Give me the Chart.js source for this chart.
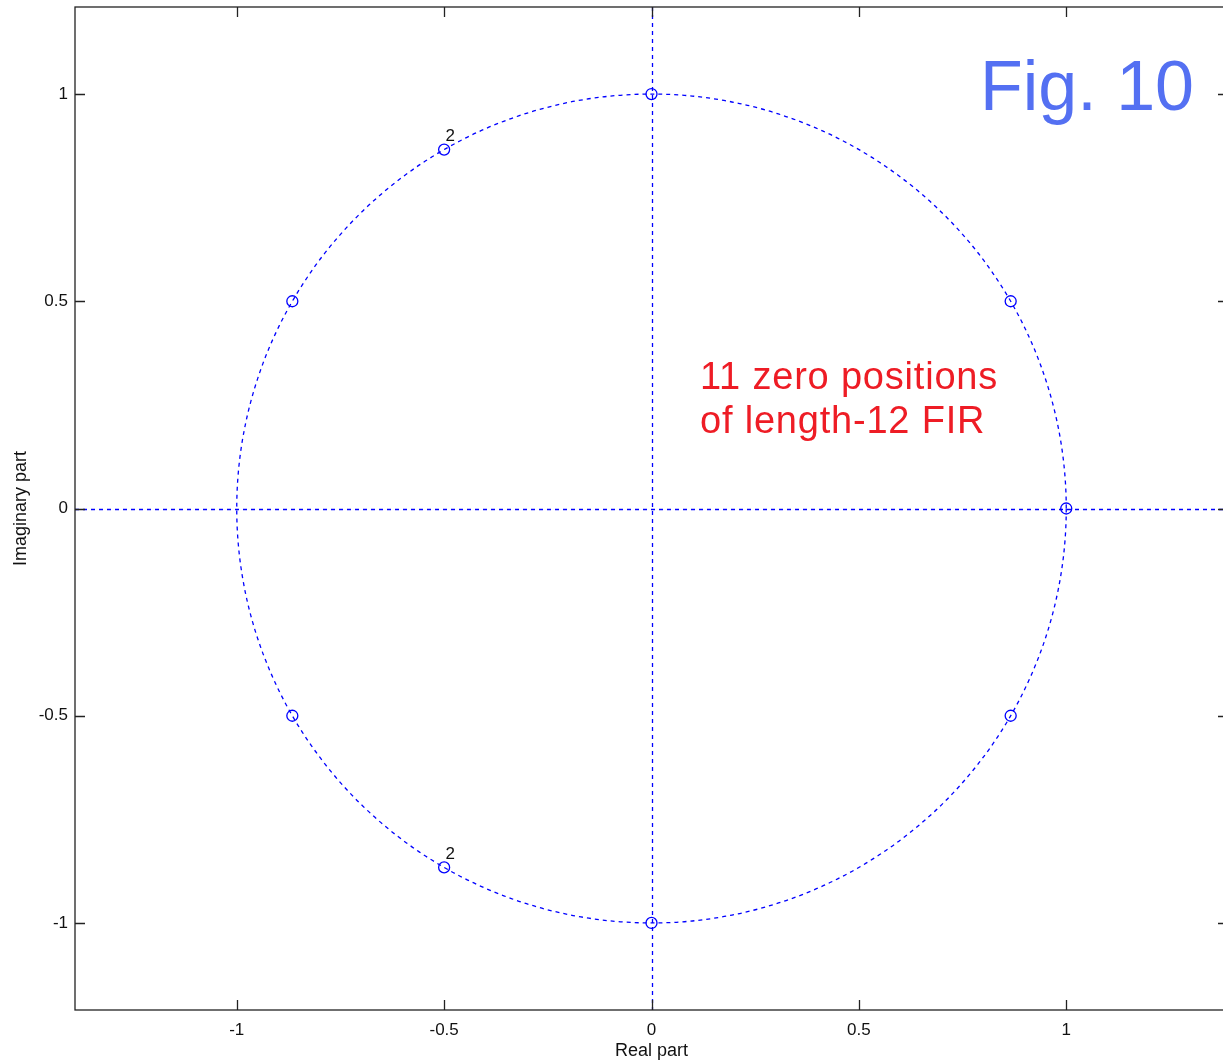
<!DOCTYPE html>
<html>
<head>
<meta charset="utf-8">
<title>Fig. 10 - zero positions</title>
<script src="https://cdn.jsdelivr.net/npm/chart.js@4/dist/chart.umd.min.js"></script>
<style>
    html, body { margin: 0; padding: 0; background: #fff; overflow: hidden; }
    #wrap { width: 1240px; height: 1063px; }
</style>
</head>
<body>
<div id="wrap"><canvas id="zplane" width="1240" height="1063"></canvas></div>
<script>
// Zeros of the length-12 FIR
const zeroRe = [1, 0.866, 0.866, 0, 0, -0.5, -0.5, -0.866, -0.866];
const zeroIm = [0, 0.5, -0.5, 1, -1, 0.866, -0.866, 0.5, -0.5];
const zeroMult = [1, 1, 1, 1, 1, 2, 2, 1, 1];

// Axes
const xTicks = [-1, -0.5, 0, 0.5, 1];
const yTicks = [-1, -0.5, 0, 0.5, 1];
const xLim = [-1.39, 1.39];
const yLim = [-1.21, 1.21];

const BLUE = '#0000ff';
const FONT = 'Arial, "Liberation Sans", sans-serif';

// Unit circle, dashed axes, frame, inward ticks, multiplicity labels, notes
const zplanePlugin = {
    id: 'zplane',
    beforeDatasetsDraw(chart) {
        const ctx = chart.ctx;
        const area = chart.chartArea;
        const xs = chart.scales.x;
        const ys = chart.scales.y;
        const cx = xs.getPixelForValue(0);
        const cy = ys.getPixelForValue(0);
        const lx = Math.round(cx) + 0.5;
        const ly = Math.round(cy) + 0.5;

        ctx.save();
        ctx.strokeStyle = BLUE;
        ctx.lineWidth = 1.3;
        ctx.setLineDash([4, 4]);

        // real axis and imaginary axis
        ctx.beginPath();
        ctx.moveTo(area.left, ly);
        ctx.lineTo(area.right, ly);
        ctx.moveTo(lx, area.top);
        ctx.lineTo(lx, area.bottom);
        ctx.stroke();

        // unit circle
        const rx = xs.getPixelForValue(1) - cx;
        const ry = cy - ys.getPixelForValue(1);
        ctx.beginPath();
        ctx.ellipse(cx, cy, rx, ry, 0, 0, Math.PI * 2);
        ctx.stroke();
        ctx.restore();
    },
    afterDraw(chart) {
        const ctx = chart.ctx;
        const area = chart.chartArea;
        const xs = chart.scales.x;
        const ys = chart.scales.y;
        const tickLen = 10;

        ctx.save();
        ctx.strokeStyle = '#222';
        ctx.lineWidth = 1.3;
        ctx.setLineDash([]);
        ctx.strokeRect(area.left, area.top, area.right - area.left, area.bottom - area.top);

        ctx.beginPath();
        xTicks.forEach(v => {
            const px = Math.round(xs.getPixelForValue(v)) + 0.5;
            ctx.moveTo(px, area.bottom);
            ctx.lineTo(px, area.bottom - tickLen);
            ctx.moveTo(px, area.top);
            ctx.lineTo(px, area.top + tickLen);
        });
        yTicks.forEach(v => {
            const py = Math.round(ys.getPixelForValue(v)) + 0.5;
            ctx.moveTo(area.left, py);
            ctx.lineTo(area.left + tickLen, py);
            ctx.moveTo(area.right, py);
            ctx.lineTo(area.right - tickLen, py);
        });
        ctx.stroke();

        // multiplicity labels
        ctx.fillStyle = '#111';
        ctx.font = '17px ' + FONT;
        ctx.textAlign = 'center';
        ctx.textBaseline = 'middle';
        zeroMult.forEach((m, i) => {
            if (m > 1) {
                const px = xs.getPixelForValue(zeroRe[i]);
                const py = ys.getPixelForValue(zeroIm[i]);
                ctx.fillText(String(m), px + 6, py - 13);
            }
        });

        // figure tag and note
        ctx.textAlign = 'left';
        ctx.textBaseline = 'alphabetic';
        ctx.fillStyle = '#5470f2';
        ctx.font = '70px ' + FONT;
        ctx.fillText('Fig. 10', 980, 110);

        ctx.fillStyle = '#ee1c25';
        ctx.font = '38px ' + FONT;
        ctx.letterSpacing = '0.8px';
        ctx.fillText('11 zero positions', 700, 389);
        ctx.fillText('of length-12 FIR', 700, 433);
        ctx.restore();
    }
};

const points = zeroRe.map((re, i) => ({ x: re, y: zeroIm[i] }));

new Chart(document.getElementById('zplane'), {
    type: 'scatter',
    data: {
        datasets: [{
            label: 'Zeros',
            data: points,
            pointStyle: 'circle',
            pointRadius: 5.5,
            pointHoverRadius: 5.5,
            borderColor: BLUE,
            backgroundColor: 'rgba(0,0,0,0)',
            borderWidth: 1.3
        }]
    },
    options: {
        responsive: false,
        animation: false,
        layout: {
            padding: { top: 7, right: 12, left: 0, bottom: 0 }
        },
        plugins: {
            legend: { display: false },
            tooltip: { enabled: false }
        },
        scales: {
            x: {
                type: 'linear',
                min: xLim[0],
                max: xLim[1],
                afterBuildTicks: scale => {
                    scale.ticks = xTicks.map(v => ({ value: v }));
                },
                afterFit: scale => {
                    scale.height = 53;
                    scale.paddingLeft = 0;
                    scale.paddingRight = 0;
                },
                grid: { drawOnChartArea: false, drawTicks: false },
                border: { display: false },
                ticks: {
                    color: '#111',
                    padding: 10,
                    maxRotation: 0,
                    font: { family: FONT, size: 17 },
                    callback: v => String(v)
                },
                title: {
                    display: true,
                    text: 'Real part',
                    color: '#111',
                    font: { family: FONT, size: 18 },
                    padding: { top: 0, bottom: 1 }
                }
            },
            y: {
                type: 'linear',
                min: yLim[0],
                max: yLim[1],
                afterBuildTicks: scale => {
                    scale.ticks = yTicks.map(v => ({ value: v }));
                },
                afterFit: scale => {
                    scale.width = 75;
                    scale.paddingTop = 0;
                    scale.paddingBottom = 0;
                },
                grid: { drawOnChartArea: false, drawTicks: false },
                border: { display: false },
                ticks: {
                    color: '#111',
                    padding: 7,
                    font: { family: FONT, size: 17 },
                    callback: v => String(v)
                },
                title: {
                    display: true,
                    text: 'Imaginary part',
                    color: '#111',
                    font: { family: FONT, size: 18 },
                    padding: { top: 10, bottom: 0 }
                }
            }
        }
    },
    plugins: [zplanePlugin]
});
</script>
</body>
</html>
